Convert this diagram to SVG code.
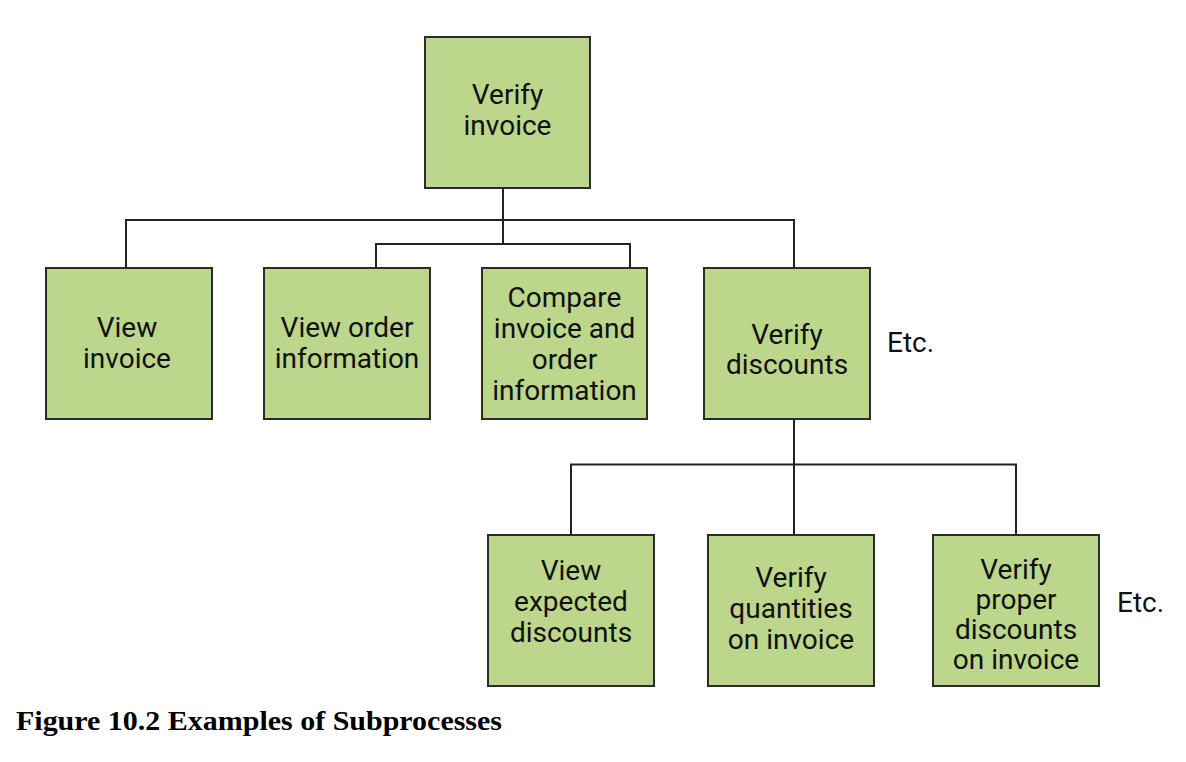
<svg xmlns="http://www.w3.org/2000/svg" width="1186" height="762" viewBox="0 0 1186 762">
<style>
.box{fill:#bcd68c;stroke:#2b2b2b;stroke-width:2}
.lbl{font-family:Roboto,'Liberation Sans',sans-serif;font-size:28px;fill:#111;text-anchor:middle}
.etc{font-family:Roboto,'Liberation Sans',sans-serif;font-size:28px;fill:#111}
.conn{fill:none;stroke:#222;stroke-width:2}
.cap{font-family:'Liberation Serif',Tinos,'Times New Roman',serif;font-weight:700;font-size:27px;fill:#000}
</style>
<rect width="1186" height="762" fill="#fff"/>
<g id="connectors">
<path class="conn" d="M503,188 V244"/>
<path class="conn" d="M126,268 V220 H794 V268"/>
<path class="conn" d="M376,268 V244 H630 V268"/>
<path class="conn" d="M794,420 V535"/>
<path class="conn" d="M571,535 V464.5 H1016 V535"/>
</g>
<g id="n-verify-invoice">
<rect class="box" x="425" y="37" width="165" height="151"/>
<text class="lbl" x="507.5" y="104">Verify</text>
<text class="lbl" x="507.5" y="135">invoice</text>
</g>
<g id="n-view-invoice">
<rect class="box" x="46" y="268" width="166" height="151"/>
<text class="lbl" x="127" y="337">View</text>
<text class="lbl" x="127" y="368">invoice</text>
</g>
<g id="n-view-order">
<rect class="box" x="264" y="268" width="166" height="151"/>
<text class="lbl" x="347" y="337">View order</text>
<text class="lbl" x="347" y="368">information</text>
</g>
<g id="n-compare">
<rect class="box" x="482" y="268" width="165" height="151"/>
<text class="lbl" x="564.5" y="307">Compare</text>
<text class="lbl" x="564.5" y="338">invoice and</text>
<text class="lbl" x="564.5" y="369">order</text>
<text class="lbl" x="564.5" y="400">information</text>
</g>
<g id="n-verify-discounts">
<rect class="box" x="704" y="268" width="166" height="151"/>
<text class="lbl" x="787" y="344">Verify</text>
<text class="lbl" x="787" y="374">discounts</text>
</g>
<g id="etc-1">
<text class="etc" x="887" y="352">Etc.</text>
</g>
<g id="n-view-expected">
<rect class="box" x="488" y="535" width="166" height="151"/>
<text class="lbl" x="571" y="580">View</text>
<text class="lbl" x="571" y="611">expected</text>
<text class="lbl" x="571" y="642">discounts</text>
</g>
<g id="n-verify-quantities">
<rect class="box" x="708" y="535" width="166" height="151"/>
<text class="lbl" x="791" y="587">Verify</text>
<text class="lbl" x="791" y="618">quantities</text>
<text class="lbl" x="791" y="649">on invoice</text>
</g>
<g id="n-verify-proper">
<rect class="box" x="933" y="535" width="166" height="151"/>
<text class="lbl" x="1016" y="579">Verify</text>
<text class="lbl" x="1016" y="609">proper</text>
<text class="lbl" x="1016" y="639">discounts</text>
<text class="lbl" x="1016" y="669">on invoice</text>
</g>
<g id="etc-2">
<text class="etc" x="1117" y="612">Etc.</text>
</g>
<text class="cap" x="16" y="730" textLength="486" lengthAdjust="spacingAndGlyphs">Figure 10.2 Examples of Subprocesses</text>
</svg>
